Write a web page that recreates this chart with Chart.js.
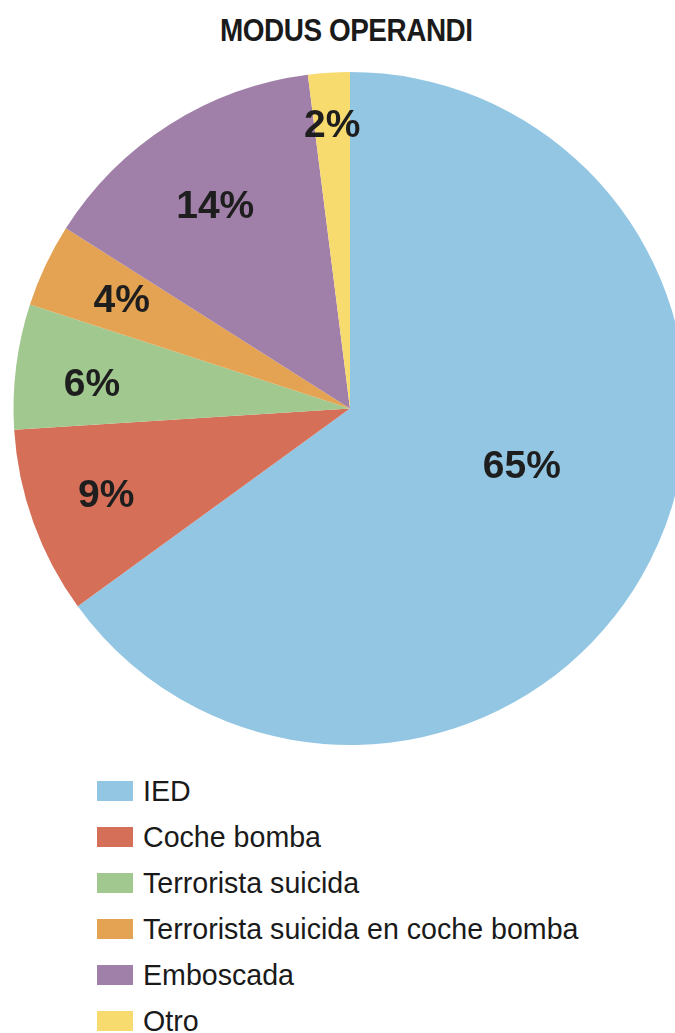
<!DOCTYPE html>
<html>
<head>
<meta charset="utf-8">
<script src="https://cdn.jsdelivr.net/npm/chart.js@4/dist/chart.umd.min.js"></script>
<style>
  html, body { margin: 0; padding: 0; background: #fff; width: 675px; height: 1033px; overflow: hidden; }
  #title {
    position: absolute; top: 13px; left: 0; width: 692px; text-align: center;
    font-family: "Liberation Sans", Arial, sans-serif; font-weight: bold; font-size: 31px;
    color: #1a1a1a; letter-spacing: -0.5px;
  }
  #title span { display: inline-block; transform: scaleX(0.9); }
  #wrap { position: absolute; left: 0; top: 0; width: 700px; height: 760px; }
  #legend { position: absolute; left: 97px; top: 768px; font-family: "Liberation Sans", Arial, sans-serif; }
  .row { display: flex; align-items: center; height: 46px; }
  .box { width: 36px; height: 20px; margin-right: 10px; }
  .lbl { font-size: 28.6px; color: #1a1a1a; }
</style>
</head>
<body>
<div id="title"><span>MODUS OPERANDI</span></div>
<div id="wrap"><canvas id="pie" width="700" height="760"></canvas></div>
<div id="legend"></div>
<script>
// data
const categories = ['IED', 'Coche bomba', 'Terrorista suicida', 'Terrorista suicida en coche bomba', 'Emboscada', 'Otro'];
const shares = [65, 9, 6, 4, 14, 2];
const colors = ['#93c6e3', '#d66f57', '#a0c88f', '#e3a352', '#a07fa8', '#f8db6f'];

// label placement along each slice (fraction of radius, angle shift in degrees)
const labelPlace = [
    { r: 0.54, shift: -8 },
    { r: 0.77, shift: 0 },
    { r: 0.77, shift: -2 },
    { r: 0.75, shift: 0 },
    { r: 0.72, shift: -1.4 },
    { r: 0.84, shift: 0 }
];

const pctLabels = {
    id: 'pctLabels',
    afterDatasetsDraw(chart) {
        const ctx = chart.ctx;
        const meta = chart.getDatasetMeta(0);
        ctx.save();
        ctx.font = 'bold 39px "Liberation Sans", Arial, sans-serif';
        ctx.fillStyle = '#1e1e1e';
        ctx.textAlign = 'center';
        ctx.textBaseline = 'middle';
        meta.data.forEach((arc, i) => {
            const p = arc.getProps(['x', 'y', 'startAngle', 'endAngle', 'outerRadius'], true);
            const mid = (p.startAngle + p.endAngle) / 2 + labelPlace[i].shift * Math.PI / 180;
            const r = p.outerRadius * labelPlace[i].r;
            ctx.fillText(shares[i] + '%', p.x + Math.cos(mid) * r, p.y + Math.sin(mid) * r);
        });
        ctx.restore();
    }
};

new Chart(document.getElementById('pie'), {
    type: 'pie',
    data: {
        labels: categories,
        datasets: [{
            data: shares,
            backgroundColor: colors,
            borderWidth: 0
        }]
    },
    options: {
        responsive: false,
        animation: false,
        devicePixelRatio: 1,
        layout: { padding: { top: 72, left: 13, right: 13, bottom: 15 } },
        plugins: {
            legend: { display: false },
            tooltip: { enabled: false }
        }
    },
    plugins: [pctLabels]
});

const legend = document.getElementById('legend');
categories.forEach((c, i) => {
    const row = document.createElement('div');
    row.className = 'row';
    row.innerHTML = '<div class="box" style="background:' + colors[i] + '"></div><div class="lbl">' + c + '</div>';
    legend.appendChild(row);
});
</script>
</body>
</html>
